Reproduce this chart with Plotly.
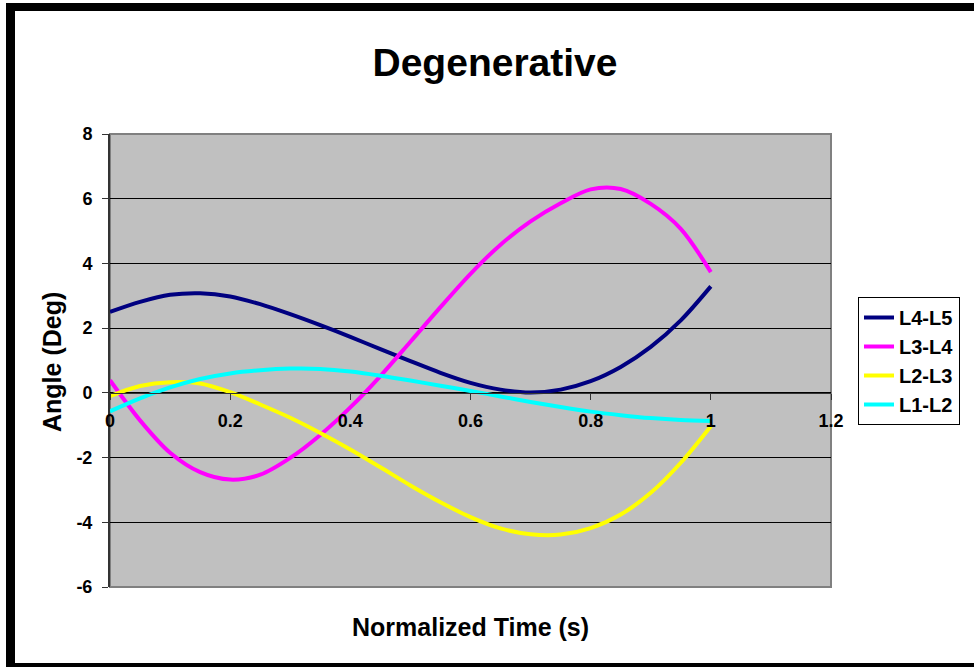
import plotly.graph_objects as go

# Normalized time samples
time = [0.0, 0.05, 0.1, 0.15, 0.2, 0.25, 0.3, 0.35, 0.4, 0.45, 0.5,
        0.55, 0.6, 0.65, 0.7, 0.75, 0.8, 0.85, 0.9, 0.95, 1.0]

# Segmental angles (deg)
l4_l5 = [2.50, 2.81, 3.03, 3.08, 2.98, 2.74, 2.43, 2.09, 1.73, 1.35, 0.98,
         0.62, 0.31, 0.10, 0.01, 0.10, 0.36, 0.80, 1.42, 2.24, 3.29]
l3_l4 = [0.39, -0.85, -1.85, -2.45, -2.68, -2.53, -2.01, -1.30, -0.45, 0.52, 1.58,
         2.65, 3.68, 4.58, 5.30, 5.86, 6.29, 6.30, 5.84, 5.07, 3.73]
l2_l3 = [-0.10, 0.21, 0.33, 0.29, 0.02, -0.36, -0.77, -1.24, -1.75, -2.30, -2.86,
         -3.38, -3.84, -4.19, -4.37, -4.38, -4.18, -3.76, -3.09, -2.16, -1.03]
l1_l2 = [-0.57, -0.17, 0.17, 0.43, 0.60, 0.70, 0.75, 0.74, 0.66, 0.53, 0.38,
         0.22, 0.06, -0.11, -0.28, -0.44, -0.58, -0.69, -0.78, -0.84, -0.87]

series_names = ["L4-L5", "L3-L4", "L2-L3", "L1-L2"]
series_values = [l4_l5, l3_l4, l2_l3, l1_l2]
series_colors = ["#000080", "#FF00FF", "#FFFF00", "#00FFFF"]

x_tick_vals = [0, 0.2, 0.4, 0.6, 0.8, 1.0, 1.2]
x_tick_text = ["0", "0.2", "0.4", "0.6", "0.8", "1", "1.2"]
y_tick_vals = [-6, -4, -2, 0, 2, 4, 6, 8]
y_tick_text = ["-6", "-4", "-2", "0", "2", "4", "6", "8"]

W, H = 974, 667
L, R, T, B = 110, 831, 134, 587  # plot area in pixels


def px(xp):
    return (xp - L) / (R - L)


def py(yp):
    return (B - yp) / (B - T)


FONT = "Arial, Liberation Sans, sans-serif"

fig = go.Figure()
for name, vals, col in zip(series_names, series_values, series_colors):
    fig.add_trace(go.Scatter(
        x=time, y=vals, name=name, mode="lines",
        line=dict(color=col, width=4, shape="spline", smoothing=0.9),
    ))

y_min, y_max = -6, 8
shapes = [
    # plot area frame
    dict(type="rect", xref="paper", yref="paper", x0=0, x1=1, y0=0, y1=1,
         line=dict(color="#808080", width=2), layer="below"),
    # chart border bars
    dict(type="rect", xref="paper", yref="paper", x0=px(6), x1=px(15), y0=py(667), y1=py(3),
         fillcolor="black", line=dict(width=0)),
    dict(type="rect", xref="paper", yref="paper", x0=px(6), x1=px(974), y0=py(11), y1=py(3),
         fillcolor="black", line=dict(width=0)),
    dict(type="rect", xref="paper", yref="paper", x0=px(6), x1=px(974), y0=py(667), y1=py(663),
         fillcolor="black", line=dict(width=0)),
]

annotations = [
    dict(text="<b>Normalized Time (s)</b>", xref="paper", yref="paper",
         x=px(470), y=py(627), xanchor="center", yanchor="middle", showarrow=False,
         font=dict(family=FONT, size=25, color="black")),
    dict(text="<b>Angle (Deg)</b>", xref="paper", yref="paper",
         x=px(52), y=py(362), xanchor="center", yanchor="middle", showarrow=False,
         textangle=-90, font=dict(family=FONT, size=25, color="black")),
]

tick_font = dict(family=FONT, size=18, color="black", weight="bold")

fig.update_layout(
    width=W, height=H,
    margin=dict(l=L, r=W - R, t=T, b=H - B, pad=0),
    paper_bgcolor="white",
    plot_bgcolor="#C0C0C0",
    font=dict(family=FONT, color="black"),
    title=dict(text="<b>Degenerative</b>", x=495 / W, xanchor="center",
               y=1 - 62 / H, yanchor="middle", yref="container",
               font=dict(family=FONT, size=39, color="black")),
    xaxis=dict(range=[0, 1.2], tickvals=x_tick_vals, ticktext=x_tick_text,
               showgrid=False, zeroline=False, showline=True, linecolor="#333333",
               linewidth=1, ticks="outside", ticklen=6, tickcolor="#333333",
               anchor="free", position=(0 - y_min) / (y_max - y_min),
               ticklabelstandoff=6, tickfont=tick_font),
    yaxis=dict(range=[y_min, y_max], tickvals=y_tick_vals, ticktext=y_tick_text,
               showgrid=True, gridcolor="black", gridwidth=1, zeroline=False,
               showline=True, linecolor="#333333", linewidth=2,
               ticks="outside", ticklen=6, tickcolor="#333333",
               ticklabelstandoff=6, tickfont=tick_font),
    legend=dict(x=px(858), y=py(297), xanchor="left", yanchor="top",
                bgcolor="white", bordercolor="black", borderwidth=1,
                font=dict(family=FONT, size=20, color="black", weight="bold"),
                itemwidth=30),
    shapes=shapes,
    annotations=annotations,
    showlegend=True,
)

fig.write_html("out.html")
